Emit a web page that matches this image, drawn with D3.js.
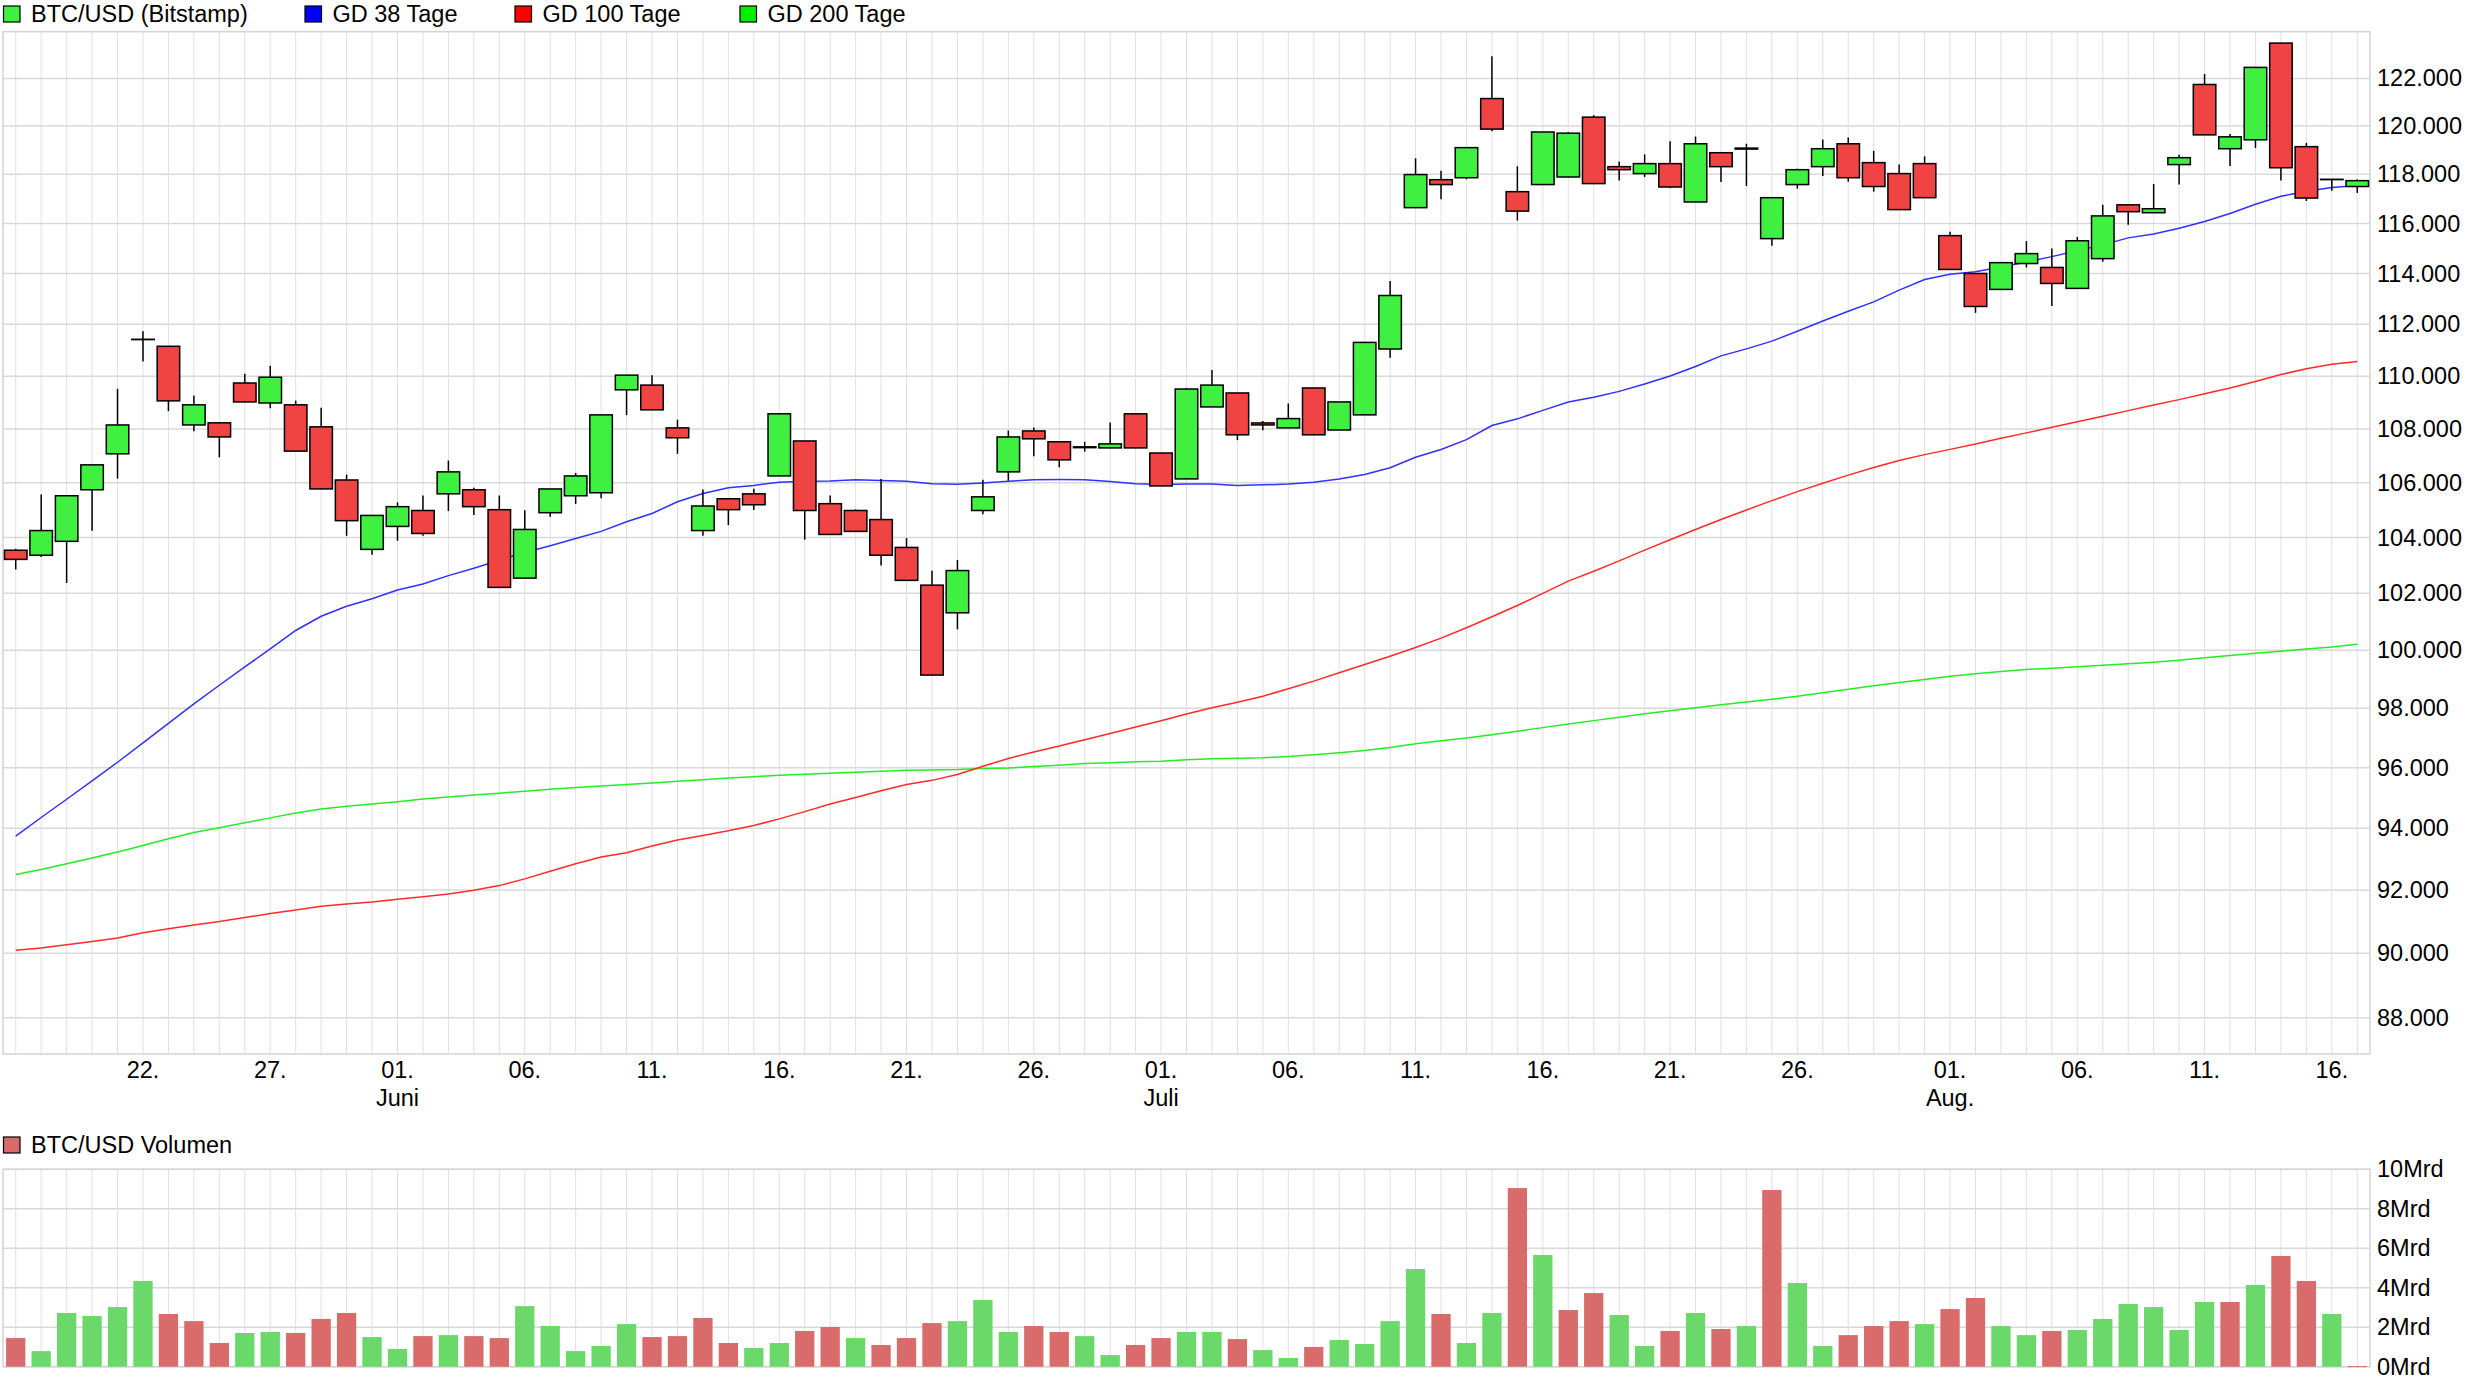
<!DOCTYPE html>
<html>
<head>
<meta charset="utf-8">
<script src="https://cdn.jsdelivr.net/npm/d3@7"></script>
<style>
  body { margin: 0; background: #fff; }
  svg { display: block; font-family: "Liberation Sans", Arial, sans-serif; }
</style>
</head>
<body>
<div id="chart"></div>
<script>
// BTC/USD (Bitstamp) daily candles, 17.05. - 17.08.2025
var startDay = "2025-05-17";

var opens = [103540, 103360, 103860, 105740, 107070, 111420, 111150, 108150, 108230, 109740,
  108980, 108910, 108080, 106100, 103570, 104400, 104980, 105590, 105740, 105010,
  102540, 104900, 105520, 105630, 109480, 109660, 108040, 104250, 105410, 105590,
  106250, 107550, 105230, 104980, 104650, 103640, 102290, 101310, 104980, 106400,
  107925, 107520, 107300, 107290, 108570, 107100, 106140, 108830, 109360, 108226,
  108040, 109550, 107960, 108530, 111045, 116640, 117780, 117860, 121150, 117290,
  117580, 117890, 120370, 118315, 118030, 118440, 116870, 118890, 119040, 115390,
  117580, 118315, 119260, 118480, 118030, 118440, 115510, 114000, 113370, 114395,
  114240, 113410, 114590, 116755, 116435, 118400, 121745, 119055, 119425, 123510,
  119140, 117795, 117500];
var highs = [103590, 105570, 105520, 106660, 109520, 111730, 111150, 109260, 108230, 110090,
  110400, 109070, 108800, 106300, 104800, 105280, 105530, 106820, 105810, 105530,
  104990, 105770, 106360, 108530, 110040, 110040, 108350, 105750, 105410, 105780,
  108570, 107550, 105530, 105020, 106140, 103980, 102800, 103190, 106110, 107940,
  108050, 107520, 107520, 108240, 108570, 107100, 109550, 110240, 109360, 108300,
  108960, 109550, 109020, 111300, 113700, 118660, 118150, 119100, 122950, 118330,
  119750, 119750, 120450, 118530, 118820, 119360, 119560, 118890, 119260, 117045,
  118230, 119440, 119520, 118970, 118400, 118740, 115670, 114000, 114430, 115290,
  114990, 115460, 116760, 116755, 117605, 118810, 122185, 119670, 122470, 123510,
  119300, 117810, 117790];
var lows = [102850, 103300, 102370, 104240, 106150, 110560, 108670, 107910, 106940, 109000,
  108780, 107170, 105770, 104060, 103380, 103880, 104060, 104960, 104820, 102210,
  102540, 104750, 105220, 105430, 108520, 108720, 107070, 104060, 104450, 105000,
  106250, 103920, 104110, 104220, 102990, 102460, 99140, 100730, 104840, 106075,
  106980, 106570, 107150, 107290, 107290, 105880, 106140, 108830, 107580, 107950,
  108040, 107780, 107960, 108530, 110710, 116640, 116980, 117800, 119780, 116120,
  117580, 117890, 117620, 117750, 117890, 117440, 116870, 117690, 117520, 115100,
  117415, 117930, 117700, 117290, 116560, 117045, 114160, 112450, 113370, 114240,
  112720, 113410, 114470, 115950, 116435, 117580, 119630, 118340, 119080, 117750,
  116910, 117330, 117240];
var closes = [103210, 104250, 105520, 106660, 108150, 111420, 109060, 108910, 107700, 109020,
  109960, 107170, 105770, 104610, 104800, 105120, 104145, 106400, 105120, 102210,
  104290, 105770, 106250, 108530, 110040, 108720, 107670, 105145, 105010, 105190,
  108570, 104980, 104110, 104220, 103360, 102460, 99140, 102810, 105480, 107700,
  107630, 106845, 107330, 107440, 107290, 105880, 109510, 109660, 107780, 108150,
  108390, 107780, 109020, 111300, 113130, 117990, 117580, 119100, 119870, 116500,
  119750, 119700, 117620, 118190, 118440, 117480, 119260, 118315, 119080, 117045,
  118190, 119055, 117860, 117500, 116560, 117045, 114160, 112700, 114430, 114790,
  113605, 115305, 116306, 116476, 116596, 118685, 119630, 119548, 122470, 118270,
  117030, 117795, 117740];

// Volumen in Mrd USD
var volumes = [1.45, 0.79, 2.72, 2.57, 3.02, 4.34, 2.67, 2.31, 1.20, 1.71,
  1.76, 1.71, 2.42, 2.72, 1.50, 0.90, 1.55, 1.60, 1.55, 1.45,
  3.07, 2.06, 0.79, 1.05, 2.16, 1.50, 1.55, 2.47, 1.20, 0.95,
  1.20, 1.81, 2.01, 1.45, 1.10, 1.45, 2.21, 2.31, 3.38, 1.76,
  2.06, 1.76, 1.55, 0.59, 1.10, 1.45, 1.76, 1.76, 1.40, 0.84,
  0.44, 1.00, 1.35, 1.15, 2.31, 4.95, 2.67, 1.20, 2.72, 9.05,
  5.66, 2.87, 3.73, 2.62, 1.05, 1.81, 2.72, 1.91, 2.06, 8.95,
  4.24, 1.05, 1.60, 2.06, 2.31, 2.16, 2.92, 3.48, 2.06, 1.60,
  1.81, 1.86, 2.42, 3.18, 3.02, 1.86, 3.28, 3.28, 4.14, 5.61,
  4.34, 2.67, 0.03];

// gleitende Durchschnitte
var gd38 = [93740, 94350, 94950, 95560, 96180, 96830, 97490, 98150, 98790, 99420,
  100050, 100690, 101190, 101540, 101810, 102120, 102330, 102630, 102890, 103180,
  103460, 103700, 103960, 104220, 104570, 104870, 105300, 105600, 105810, 105900,
  106020, 106050, 106060, 106110, 106080, 106050, 105960, 105940, 105990, 106050,
  106110, 106120, 106110, 106040, 105960, 105930, 105950, 105950, 105900, 105920,
  105950, 106020, 106140, 106300, 106550, 106940, 107230, 107600, 108130, 108380,
  108700, 109020, 109200, 109420, 109700, 110010, 110370, 110780, 111050, 111350,
  111730, 112130, 112510, 112880, 113340, 113760, 113970, 114070, 114260, 114460,
  114670, 114910, 115140, 115420, 115580, 115810, 116080, 116400, 116780, 117100,
  117310, 117460, 117540];
var gd100 = [90095, 90160, 90265, 90370, 90476, 90646, 90772, 90889, 90995, 91122,
  91249, 91365, 91481, 91556, 91619, 91704, 91788, 91873, 91989, 92141,
  92357, 92605, 92843, 93059, 93200, 93416, 93611, 93762, 93913, 94087,
  94304, 94543, 94793, 95011, 95228, 95435, 95576, 95772, 96045, 96307,
  96523, 96727, 96932, 97148, 97364, 97580, 97807, 98023, 98210, 98414,
  98667, 98931, 99218, 99506, 99793, 100094, 100421, 100784, 101170, 101567,
  102000, 102434, 102783, 103157, 103542, 103920, 104290, 104650, 105000, 105340,
  105670, 105980, 106280, 106560, 106820, 107040, 107235, 107440, 107650, 107852,
  108060, 108270, 108478, 108690, 108900, 109107, 109330, 109547, 109799, 110064,
  110282, 110460, 110560];
var gd200 = [92497, 92659, 92843, 93027, 93222, 93438, 93654, 93859, 94011, 94174,
  94337, 94500, 94630, 94717, 94793, 94870, 94957, 95022, 95087, 95152,
  95217, 95283, 95337, 95391, 95435, 95489, 95543, 95598, 95652, 95696,
  95750, 95783, 95815, 95848, 95880, 95913, 95924, 95935, 95967, 95989,
  96034, 96080, 96136, 96159, 96193, 96216, 96261, 96295, 96310, 96328,
  96373, 96429, 96497, 96576, 96678, 96802, 96904, 96994, 97107, 97220,
  97345, 97469, 97582, 97695, 97819, 97921, 98023, 98126, 98218, 98310,
  98414, 98529, 98655, 98770, 98885, 98989, 99103, 99184, 99264, 99333,
  99379, 99425, 99483, 99529, 99586, 99655, 99736, 99816, 99897, 99966,
  100047, 100117, 100211];

// Achsenbeschriftung
var tickDays = ["2025-05-22", "2025-05-27", "2025-06-01", "2025-06-06", "2025-06-11", "2025-06-16",
  "2025-06-21", "2025-06-26", "2025-07-01", "2025-07-06", "2025-07-11", "2025-07-16",
  "2025-07-21", "2025-07-26", "2025-08-01", "2025-08-06", "2025-08-11", "2025-08-16"];
var monthDays = ["2025-06-01", "2025-07-01", "2025-08-01"];
var monthNames = ["Juni", "Juli", "Aug."];
var priceTicks = [88000, 90000, 92000, 94000, 96000, 98000, 100000, 102000, 104000, 106000,
  108000, 110000, 112000, 114000, 116000, 118000, 120000, 122000];
var volTicks = [0, 2, 4, 6, 8, 10];

var legendNames = ["BTC/USD (Bitstamp)", "GD 38 Tage", "GD 100 Tage", "GD 200 Tage"];
var legendColors = ["#40f040", "#0000ff", "#ff0000", "#00ee00"];

// layout
var width = 2467, height = 1393;
var left = 3, right = 2370;
var mainTop = 31.7, mainBottom = 1054;
var volTop = 1169.3, volBottom = 1366.7;
var fontSize = 23.5;
var upColor = "#40f040", downColor = "#f04343";
var volUp = "#6ad96a", volDown = "#d96b6b";

var parseDay = d3.timeParse("%Y-%m-%d");
var fmtDay = d3.timeFormat("%Y-%m-%d");
var start = parseDay(startDay);
var days = d3.timeDay.range(start, d3.timeDay.offset(start, closes.length)).map(fmtDay);

var de = d3.formatLocale({decimal: ",", thousands: ".", grouping: [3], currency: ["", " €"]});
var priceFormat = de.format(",.0f");

var svg = d3.select("#chart").append("svg")
  .attr("width", width)
  .attr("height", height);

svg.append("rect").attr("width", width).attr("height", height).attr("fill", "#fff");

var x = d3.scaleBand()
  .domain(days)
  .range([left, right]);
var cx = function(i) { return x(days[i]) + x.bandwidth() / 2; };

var y = d3.scaleLog()
  .domain([86900, 124000])
  .range([mainBottom, mainTop]);

var yVol = d3.scaleLinear()
  .domain([0, 10])
  .range([volBottom, volTop]);

// grid lines
function vGrid(top, bottom) {
  svg.append("g")
    .selectAll("line")
    .data(days)
    .enter()
    .append("line")
    .attr("x1", d => x(d) + x.bandwidth() / 2)
    .attr("x2", d => x(d) + x.bandwidth() / 2)
    .attr("y1", top)
    .attr("y2", bottom)
    .attr("stroke", "#e0e0e0")
    .attr("stroke-width", 1);
}
vGrid(mainTop, mainBottom);
vGrid(volTop, volBottom);

svg.append("g")
  .selectAll("line")
  .data(priceTicks)
  .enter()
  .append("line")
  .attr("x1", left)
  .attr("x2", right)
  .attr("y1", d => y(d))
  .attr("y2", d => y(d))
  .attr("stroke", "#d9d9d9")
  .attr("stroke-width", 1.5);

svg.append("g")
  .selectAll("line")
  .data(volTicks)
  .enter()
  .append("line")
  .attr("x1", left)
  .attr("x2", right)
  .attr("y1", d => yVol(d))
  .attr("y2", d => yVol(d))
  .attr("stroke", "#d9d9d9")
  .attr("stroke-width", 1.5);

// frames
svg.append("rect")
  .attr("x", left).attr("y", mainTop)
  .attr("width", right - left).attr("height", mainBottom - mainTop)
  .attr("fill", "none").attr("stroke", "#d4d4d4").attr("stroke-width", 1.5);
svg.append("rect")
  .attr("x", left).attr("y", volTop)
  .attr("width", right - left).attr("height", volBottom - volTop)
  .attr("fill", "none").attr("stroke", "#d4d4d4").attr("stroke-width", 1.5);

// moving averages
var line = d3.line()
  .x((d, i) => cx(i))
  .y(d => y(d));

[[gd200, "#22ee22"], [gd100, "#ff2a2a"], [gd38, "#3030ff"]].forEach(function(s) {
  svg.append("path")
    .datum(s[0])
    .attr("d", line)
    .attr("fill", "none")
    .attr("stroke", s[1])
    .attr("stroke-width", 1.5);
});

// candles
var bodyWidth = 22.5;
var candles = svg.append("g");

candles.selectAll("line")
  .data(closes)
  .enter()
  .append("line")
  .attr("x1", (d, i) => cx(i))
  .attr("x2", (d, i) => cx(i))
  .attr("y1", (d, i) => y(highs[i]))
  .attr("y2", (d, i) => y(lows[i]))
  .attr("stroke", "#000")
  .attr("stroke-width", 1.5);

candles.selectAll("rect")
  .data(closes)
  .enter()
  .append("rect")
  .attr("x", (d, i) => cx(i) - bodyWidth / 2)
  .attr("y", (d, i) => y(Math.max(opens[i], d)))
  .attr("width", bodyWidth)
  .attr("height", (d, i) => Math.max(Math.abs(y(opens[i]) - y(d)), 0.3))
  .attr("fill", (d, i) => d >= opens[i] ? upColor : downColor)
  .attr("stroke", "#000")
  .attr("stroke-width", 1.5);

// volume bars, coloured by change against previous close
var volWidth = 19.3;
svg.append("g")
  .selectAll("rect")
  .data(volumes)
  .enter()
  .append("rect")
  .attr("x", (d, i) => cx(i) - volWidth / 2)
  .attr("y", d => yVol(d))
  .attr("width", volWidth)
  .attr("height", d => Math.max(yVol(0) - yVol(d), 1))
  .attr("fill", function(d, i) {
    var prev = i > 0 ? closes[i - 1] : opens[i];
    return closes[i] >= prev ? volUp : volDown;
  });

// axes
function styleAxis(g) {
  g.select(".domain").remove();
  g.attr("font-size", fontSize)
    .attr("font-family", '"Liberation Sans", Arial, sans-serif');
  g.selectAll("text").attr("fill", "#000");
}

svg.append("g")
  .attr("transform", `translate(${right}, 0)`)
  .call(d3.axisRight(y).tickValues(priceTicks).tickFormat(priceFormat).tickSize(0).tickPadding(7))
  .call(styleAxis);

svg.append("g")
  .attr("transform", `translate(${right}, 0)`)
  .call(d3.axisRight(yVol).tickValues(volTicks).tickFormat(d => d + "Mrd").tickSize(0).tickPadding(7))
  .call(styleAxis);

var xAxis = svg.append("g")
  .attr("transform", `translate(0, ${mainBottom})`)
  .call(d3.axisBottom(x).tickValues(tickDays).tickFormat(d => d.slice(8) + ".").tickSize(0).tickPadding(7.6))
  .call(styleAxis);

xAxis.selectAll(".tick")
  .filter(d => monthDays.indexOf(d) >= 0)
  .append("text")
  .attr("y", 7.6)
  .attr("dy", "0.71em")
  .attr("transform", "translate(0, 28)")
  .attr("fill", "#000")
  .text(d => monthNames[monthDays.indexOf(d)]);

// legends
var legendX = [3.5, 305, 515, 740];
var legend = svg.append("g").attr("font-size", fontSize);
legendNames.forEach(function(name, i) {
  legend.append("rect")
    .attr("x", legendX[i]).attr("y", 6)
    .attr("width", 16.5).attr("height", 16)
    .attr("fill", legendColors[i])
    .attr("stroke", "#000").attr("stroke-width", 1.2);
  legend.append("text")
    .attr("x", legendX[i] + 27.5).attr("y", 21.7)
    .attr("fill", "#000")
    .text(name);
});

legend.append("rect")
  .attr("x", 3.5).attr("y", 1137)
  .attr("width", 16.5).attr("height", 16)
  .attr("fill", volDown)
  .attr("stroke", "#000").attr("stroke-width", 1.2);
legend.append("text")
  .attr("x", 31).attr("y", 1152.7)
  .attr("fill", "#000")
  .text("BTC/USD Volumen");
</script>
</body>
</html>
